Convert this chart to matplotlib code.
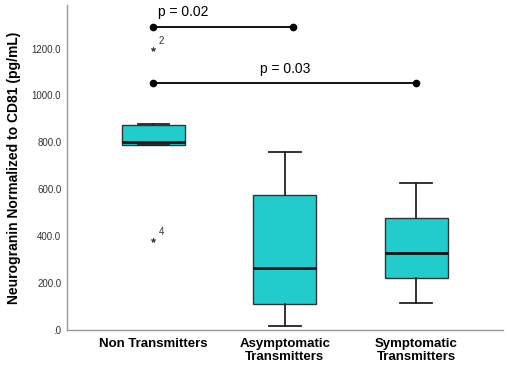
import matplotlib
matplotlib.use("Agg")
import matplotlib.pyplot as plt

plt.rcParams['font.family'] = ['Liberation Sans', 'DejaVu Sans']

categories = ["Non Transmitters", "Asymptomatic\nTransmitters", "Symptomatic\nTransmitters"]
q1 = [790, 110, 221]
median = [803, 264, 328]
q3 = [876, 574, 477]
whislo = [790, 17, 115]
whishi = [880, 760, 625]
outlier_vals = [1200, 383]
outlier_ids = ["2", "4"]
yticks = [0, 200, 400, 600, 800, 1000, 1200]
ytick_labels = [".0", "200.0", "400.0", "600.0", "800.0", "1000.0", "1200.0"]
brackets = [(1, 2.06, 1294, "p = 0.02", 1.23), (1, 3, 1055, "p = 0.03", 2.0)]

fig = plt.figure(figsize=(5.1, 3.7), dpi=100)
ax = fig.add_axes([0.131, 0.108, 0.855, 0.878])

stats = []
for i in range(3):
    stats.append(dict(q1=q1[i], med=median[i], q3=q3[i], whislo=whislo[i], whishi=whishi[i], fliers=[]))

ax.bxp(stats, positions=[1, 2, 3], widths=0.48, patch_artist=True, showfliers=False,
       boxprops=dict(facecolor="#22CCCC", edgecolor="#333333", linewidth=1.0),
       medianprops=dict(color="#111111", linewidth=2.0),
       whiskerprops=dict(color="#222222", linewidth=1.3),
       capprops=dict(color="#222222", linewidth=1.3),
       capwidths=0.24)

for v, lab in zip(outlier_vals, outlier_ids):
    ax.plot(1, v, marker=(5, 2, 0), color="#444444", markersize=3.2, mew=0.7)
    ax.text(1.04, v + 12, lab, fontsize=7, color="#333333", va="bottom", ha="left")

for x0, x1, y, txt, tx in brackets:
    ax.plot([x0, x1], [y, y], color="black", linewidth=1.3, marker="o", markersize=4.5)
    ax.text(tx, y + 30, txt, fontsize=10, ha="center", va="bottom", color="black")

ax.set_xlim(0.34, 3.66)
ax.set_ylim(0, 1385)
ax.set_yticks(yticks)
ax.set_yticklabels(ytick_labels, fontsize=7, color="#333333")
ax.set_xticks([1, 2, 3])
ax.set_xticklabels(categories, fontsize=9.5, fontweight="bold", linespacing=1.05)
ax.tick_params(length=0, pad=4)
ax.tick_params(axis="x", pad=6)
for s in ["top", "right"]:
    ax.spines[s].set_visible(False)
for s in ["left", "bottom"]:
    ax.spines[s].set_color("#999999")
    ax.spines[s].set_linewidth(1.0)
ax.set_ylabel("Neurogranin Normalized to CD81 (pg/mL)", fontsize=10, fontweight="bold", labelpad=8)

fig.savefig("out.png", dpi=100)
